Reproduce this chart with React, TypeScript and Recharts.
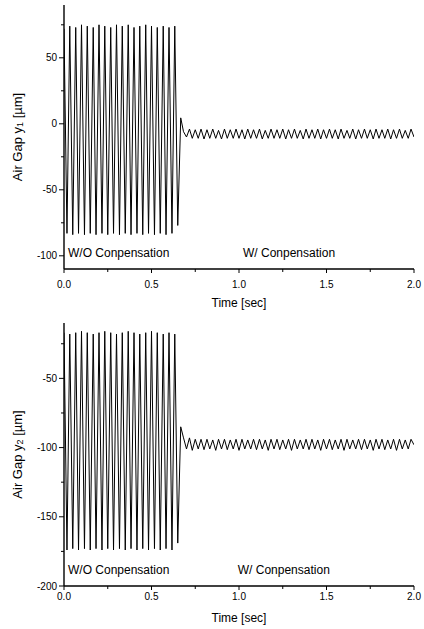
import React from 'react';
import { LineChart, Line, XAxis, YAxis, ReferenceDot } from 'recharts';

const times = [
  0, 0.017, 0.033, 0.05, 0.067, 0.083, 0.1, 0.117, 0.133, 0.15, 0.167, 0.183,
  0.2, 0.217, 0.233, 0.25, 0.267, 0.283, 0.3, 0.317, 0.333, 0.35, 0.367, 0.383,
  0.4, 0.417, 0.433, 0.45, 0.467, 0.483, 0.5, 0.517, 0.533, 0.55, 0.567, 0.583,
  0.6, 0.617, 0.633, 0.65, 0.667, 0.683, 0.7, 0.717, 0.733, 0.75, 0.767, 0.783,
  0.8, 0.817, 0.833, 0.85, 0.867, 0.883, 0.9, 0.917, 0.933, 0.95, 0.967, 0.983,
  1.0, 1.017, 1.033, 1.05, 1.067, 1.083, 1.1, 1.117, 1.133, 1.15, 1.167, 1.183,
  1.2, 1.217, 1.233, 1.25, 1.267, 1.283, 1.3, 1.317, 1.333, 1.35, 1.367, 1.383,
  1.4, 1.417, 1.433, 1.45, 1.467, 1.483, 1.5, 1.517, 1.533, 1.55, 1.567, 1.583,
  1.6, 1.617, 1.633, 1.65, 1.667, 1.683, 1.7, 1.717, 1.733, 1.75, 1.767, 1.783,
  1.8, 1.817, 1.833, 1.85, 1.867, 1.883, 1.9, 1.917, 1.933, 1.95, 1.967, 1.983,
  2.0,
];

const gapY1 = [
  72, -83, 74, -84, 73, -83, 75, -84, 74, -83, 73, -84,
  75, -83, 74, -84, 73, -83, 75, -84, 74, -83, 75, -84,
  73, -83, 74, -84, 75, -83, 74, -84, 73, -83, 74, -84,
  73, -83, 74, -77, 4.5, -6, -10, -4, -11, -4.5, -11, -4,
  -11.5, -4.5, -11, -4, -11, -5, -11.5, -4, -11, -4.5, -11, -4,
  -11, -4.5, -11.5, -4, -11, -4.5, -11, -4, -11.5, -5, -11, -4,
  -11, -4.5, -11, -4, -11.5, -4.5, -11, -4, -11, -5, -11.5, -4,
  -11, -4.5, -11, -4, -11.5, -4.5, -11, -4, -11, -4.5, -11.5, -4,
  -11, -5, -11, -4, -11.5, -4.5, -11, -4, -11, -4.5, -11.5, -4,
  -11, -4.5, -11, -4, -11.5, -4.5, -11, -4, -11, -5, -11, -4,
  -10,
];

const gapY2 = [
  -17, -174, -18, -173, -17, -174, -16, -173, -17, -174, -18, -173,
  -17, -174, -16, -173, -17, -174, -18, -173, -17, -174, -16, -173,
  -17, -174, -18, -173, -17, -174, -16, -173, -17, -174, -18, -173,
  -17, -174, -18, -169, -85, -93, -101, -93, -102, -94, -101, -94,
  -101.5, -94, -101, -94.5, -102, -94, -101, -94, -101.5, -94.5, -101, -94,
  -102, -94, -101, -94.5, -101, -94, -101.5, -94, -101, -94.5, -102, -94,
  -101, -94, -101.5, -94.5, -101, -94, -102, -94, -101, -94.5, -101, -94,
  -101.5, -94, -101, -94.5, -102, -94, -101, -94, -101.5, -94.5, -101, -94,
  -102, -94, -101, -94.5, -101, -94, -101.5, -94, -101, -94.5, -102, -94,
  -101, -94, -101.5, -94.5, -101, -94, -102, -94, -101, -94.5, -101, -94,
  -98,
];

const xTicks = [0, 0.25, 0.5, 0.75, 1, 1.25, 1.5, 1.75, 2];
const y1Ticks = [-100, -75, -50, -25, 0, 25, 50, 75];
const y2Ticks = [-200, -175, -150, -125, -100, -75, -50, -25];
const y1Domain = [-110, 90];
const y2Domain = [-200, -10];
const xLabel = 'Time [sec]';
const woLabel = 'W/O Conpensation';
const wLabel = 'W/ Conpensation';

const FONT = '"Liberation Sans", Arial, Helvetica, sans-serif';

const data1 = times.map((t, i) => ({ t, y: gapY1[i] }));
const data2 = times.map((t, i) => ({ t, y: gapY2[i] }));

const YTick = (props: any) => {
  const { x, y, payload } = props;
  const major = payload.value % 50 === 0;
  return (
    <g>
      <line x1={x - (major ? 5 : 3)} y1={y} x2={x} y2={y} stroke="#000" strokeWidth={1} />
      {major && (
        <text x={x - 7} y={y} textAnchor="end" dominantBaseline="central" fontSize={10} fill="#000" fontFamily={FONT}>
          {payload.value}
        </text>
      )}
    </g>
  );
};

const makeXTick = (labelGap: number) => (props: any) => {
  const { x, y, payload } = props;
  const major = Math.abs((payload.value * 2) - Math.round(payload.value * 2)) < 1e-6;
  return (
    <g>
      <line x1={x} y1={y} x2={x} y2={y + (major ? 4 : 3)} stroke="#000" strokeWidth={1} />
      {major && (
        <text x={x} y={y + labelGap} textAnchor="middle" dominantBaseline="central" fontSize={10} fill="#000" fontFamily={FONT}>
          {payload.value.toFixed(1)}
        </text>
      )}
    </g>
  );
};

const YLabel = (props: any) => {
  const { viewBox, sub } = props;
  const cx = viewBox.x + 17;
  const cy = viewBox.y + viewBox.height / 2;
  return (
    <text
      transform={`rotate(-90 ${cx} ${cy})`}
      x={cx}
      y={cy}
      textAnchor="middle"
      dominantBaseline="central"
      fontSize={13}
      fill="#000"
      fontFamily={FONT}
    >
      Air Gap y<tspan dy={3} fontSize={9}>{sub}</tspan>
      <tspan dy={-3}> [µm]</tspan>
    </text>
  );
};

const XLabel = (props: any) => {
  const { viewBox, gap } = props;
  const cx = viewBox.x + viewBox.width / 2;
  return (
    <text x={cx} y={viewBox.y + gap} textAnchor="middle" dominantBaseline="central" fontSize={12} fill="#000" fontFamily={FONT}>
      {xLabel}
    </text>
  );
};

type PanelProps = {
  data: { t: number; y: number }[];
  yDomain: number[];
  yTicks: number[];
  sub: string;
  height: number;
  top: number;
  xAxisHeight: number;
  tickGap: number;
  labelGap: number;
  textY: number;
  rightTextX: number;
};

const Panel = ({ data, yDomain, yTicks, sub, height, top, xAxisHeight, tickGap, labelGap, textY, rightTextX }: PanelProps) => (
  <LineChart
    width={424}
    height={height}
    data={data}
    margin={{ top, right: 10, bottom: 0, left: 0 }}
    style={{ fontFamily: FONT }}
  >
    <XAxis
      dataKey="t"
      type="number"
      domain={[0, 2]}
      ticks={xTicks}
      interval={0}
      tickSize={0}
      tickMargin={0}
      tickLine={false}
      tick={makeXTick(tickGap)}
      axisLine={{ stroke: '#000', strokeWidth: 1.4 }}
      height={xAxisHeight}
      allowDataOverflow
      label={<XLabel gap={labelGap} />}
    />
    <XAxis
      xAxisId="top"
      orientation="top"
      type="number"
      domain={[0, 2]}
      tick={false}
      tickLine={false}
      height={0}
      axisLine={{ stroke: '#000', strokeWidth: 1.4 }}
    />
    <YAxis
      type="number"
      domain={yDomain}
      ticks={yTicks}
      interval={0}
      tickSize={0}
      tickMargin={0}
      tickLine={false}
      tick={<YTick />}
      width={64}
      axisLine={{ stroke: '#000', strokeWidth: 1.4 }}
      allowDataOverflow
      label={<YLabel sub={sub} />}
    />
    <YAxis
      yAxisId="right"
      orientation="right"
      type="number"
      domain={yDomain}
      tick={false}
      tickLine={false}
      width={0}
      axisLine={{ stroke: '#000', strokeWidth: 1.4 }}
    />
    <Line
      dataKey="y"
      type="linear"
      stroke="#000"
      strokeWidth={1}
      dot={false}
      isAnimationActive={false}
    />
    <ReferenceDot
      x={0}
      y={textY}
      r={1}
      fill="none"
      stroke="none"
      isFront
      label={{ value: woLabel, position: 'right', offset: 3, fill: '#000', fontSize: 12, fontFamily: FONT }}
    />
    <ReferenceDot
      x={rightTextX}
      y={textY}
      r={1}
      fill="none"
      stroke="none"
      isFront
      label={{ value: wLabel, position: 'right', offset: 3, fill: '#000', fontSize: 12, fontFamily: FONT }}
    />
  </LineChart>
);

export default function App() {
  return (
    <div style={{ position: 'absolute', left: 0, top: 0, width: 424, height: 629, background: '#fff' }}>
      <div style={{ position: 'absolute', left: 0, top: 0 }}>
        <Panel
          data={data1}
          yDomain={y1Domain}
          yTicks={y1Ticks}
          sub="1"
          height={310}
          top={5}
          xAxisHeight={41}
          tickGap={15}
          labelGap={34}
          textY={-98}
          rightTextX={1.0}
        />
      </div>
      <div style={{ position: 'absolute', left: 0, top: 310 }}>
        <Panel
          data={data2}
          yDomain={y2Domain}
          yTicks={y2Ticks}
          sub="2"
          height={319}
          top={13}
          xAxisHeight={43}
          tickGap={10}
          labelGap={32}
          textY={-188}
          rightTextX={0.97}
        />
      </div>
    </div>
  );
}
